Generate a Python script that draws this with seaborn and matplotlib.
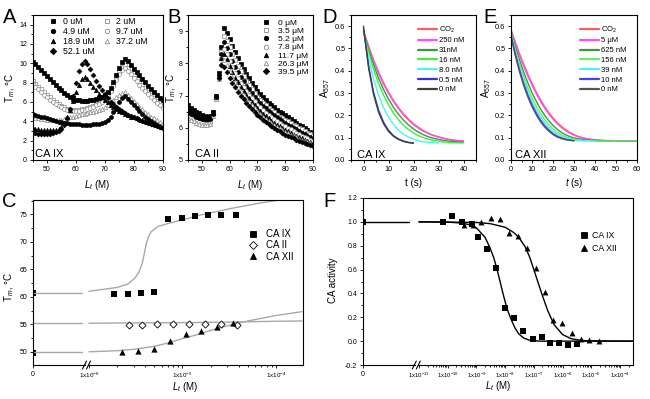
import numpy as np
import seaborn as sns
import matplotlib.pyplot as plt
from matplotlib.lines import Line2D
from matplotlib.ticker import (MultipleLocator, FixedLocator, FixedFormatter,
                               NullFormatter, LogLocator)

# ---------------- data ----------------
# panel A (CA IX melting curves)
temp_A = list(range(45, 91))
a_0 = [10.1, 9.9, 9.6, 9.3, 9.0, 8.7, 8.4, 8.1, 7.8, 7.5,
       7.2, 6.95, 6.7, 6.5, 6.35, 6.25, 6.2, 6.15, 6.15, 6.15,
       6.2, 6.25, 6.3, 6.4, 6.5, 6.7, 7.0, 7.5, 8.1, 8.8,
       9.5, 10.1, 10.5, 10.2, 9.8, 9.45, 9.1, 8.75, 8.4, 8.05,
       7.7, 7.35, 7.0, 6.7, 6.45, 6.2]
a_2 = [8.2, 7.9, 7.6, 7.3, 7.0, 6.75, 6.5, 6.25, 6.0, 5.8,
       5.6, 5.45, 5.3, 5.2, 5.15, 5.15, 5.2, 5.25, 5.3, 5.4,
       5.5, 5.6, 5.75, 5.9, 6.1, 6.35, 6.7, 7.2, 7.8, 8.5,
       9.1, 9.6, 9.8, 9.5, 9.15, 8.8, 8.45, 8.1, 7.75, 7.4,
       7.05, 6.7, 6.4, 6.1, 5.85, 5.6]
a_49 = [4.8, 4.7, 4.6, 4.5, 4.4, 4.3, 4.2, 4.1, 4.0, 3.95,
        3.9, 3.85, 3.8, 3.75, 3.7, 3.7, 3.7, 3.65, 3.65, 3.65,
        3.65, 3.7, 3.7, 3.75, 3.8, 3.9, 4.1, 4.5, 5.0, 5.5,
        6.0, 6.4, 6.6, 6.3, 6.0, 5.7, 5.4, 5.1, 4.8, 4.5,
        4.25, 4.0, 3.8, 3.6, 3.45, 3.3]
a_97 = [7.9, 7.6, 7.3, 7.0, 6.75, 6.5, 6.25, 6.0, 5.8, 5.6,
        5.45, 5.3, 5.2, 5.1, 5.05, 5.05, 5.1, 5.15, 5.2, 5.3,
        5.4, 5.5, 5.65, 5.8, 6.0, 6.25, 6.6, 7.1, 7.7, 8.3,
        8.85, 9.3, 9.5, 9.2, 8.85, 8.5, 8.15, 7.8, 7.45, 7.1,
        6.8, 6.5, 6.2, 5.9, 5.65, 5.4]
a_189 = [3.3, 3.25, 3.2, 3.15, 3.1, 3.1, 3.1, 3.1, 3.15, 3.25,
         3.45, 3.8, 4.4, 5.2, 6.1, 7.0, 7.8, 8.4, 8.6, 8.4,
         8.0, 7.6, 7.2, 6.85, 6.5, 6.2, 5.95, 5.7, 5.5, 5.3,
         5.1, 4.95, 4.8, 4.65, 4.5, 4.4, 4.3, 4.2, 4.1, 4.0,
         3.9, 3.8, 3.7, 3.6, 3.5, 3.45]
a_372 = [4.4, 4.35, 4.3, 4.25, 4.2, 4.15, 4.1, 4.1, 4.1, 4.1,
         4.15, 4.2, 4.3, 4.4, 4.5, 4.6, 4.7, 4.75, 4.8, 4.85,
         4.95, 5.0, 5.1, 5.2, 5.3, 5.45, 5.65, 5.9, 6.2, 6.5,
         6.75, 6.95, 7.0, 6.7, 6.4, 6.1, 5.8, 5.5, 5.25, 5.0,
         4.75, 4.5, 4.3, 4.1, 3.95, 3.8]
a_521 = [2.8, 2.75, 2.7, 2.7, 2.7, 2.7, 2.7, 2.75, 2.85, 3.0,
         3.2, 3.6, 4.3, 5.3, 6.6, 8.0, 9.2, 9.9, 10.2, 9.9,
         9.4, 8.8, 8.2, 7.7, 7.2, 6.8, 6.4, 6.05, 5.75, 5.5,
         5.25, 5.05, 4.85, 4.7, 4.55, 4.4, 4.3, 4.15, 4.05, 3.9,
         3.8, 3.7, 3.6, 3.5, 3.4, 3.3]

# panel B (CA II melting curves)
temp_B = list(range(45, 91))
b_0 = [6.70, 6.62, 6.55, 6.50, 6.45, 6.40, 6.36, 6.35, 6.36,
       6.50, 7.00, 7.70, 8.50, 9.10,
       8.95, 8.75, 8.55, 8.35, 8.15, 7.98, 7.82, 7.67, 7.53, 7.40,
       7.27, 7.15, 7.05, 6.95, 6.86, 6.78, 6.70, 6.63, 6.56, 6.50,
       6.45, 6.40, 6.34, 6.28, 6.22, 6.16, 6.10, 6.04, 5.98, 5.92,
       5.87, 5.82]
b_35 = [6.45, 6.40, 6.35, 6.30, 6.25, 6.22, 6.20, 6.20, 6.22,
        6.42, 6.95, 7.60, 8.35, 8.85,
        8.70, 8.50, 8.30, 8.10, 7.92, 7.76, 7.60, 7.46, 7.33, 7.20,
        7.08, 6.97, 6.87, 6.78, 6.70, 6.62, 6.55, 6.48, 6.41, 6.35,
        6.30, 6.25, 6.20, 6.15, 6.10, 6.05, 6.00, 5.95, 5.90, 5.85,
        5.80, 5.75]
b_52 = [6.60, 6.52, 6.46, 6.42, 6.38, 6.34, 6.31, 6.30, 6.32,
        6.48, 6.98, 7.65, 8.30, 8.65,
        8.48, 8.28, 8.08, 7.90, 7.73, 7.58, 7.44, 7.31, 7.19, 7.07,
        6.96, 6.86, 6.77, 6.68, 6.60, 6.53, 6.46, 6.39, 6.33, 6.27,
        6.21, 6.15, 6.10, 6.05, 6.00, 5.95, 5.90, 5.85, 5.80, 5.75,
        5.70, 5.66]
b_78 = [6.35, 6.30, 6.26, 6.22, 6.18, 6.15, 6.13, 6.12, 6.15,
        6.40, 6.92, 7.55, 8.15, 8.45,
        8.28, 8.08, 7.88, 7.70, 7.54, 7.40, 7.27, 7.15, 7.03, 6.92,
        6.82, 6.72, 6.63, 6.55, 6.47, 6.40, 6.33, 6.27, 6.21, 6.15,
        6.10, 6.05, 6.00, 5.95, 5.90, 5.85, 5.80, 5.75, 5.71, 5.67,
        5.63, 5.59]
b_117 = [6.55, 6.48, 6.42, 6.38, 6.34, 6.30, 6.28, 6.28, 6.30,
         6.46, 6.95, 7.60, 8.15, 8.30,
         8.12, 7.92, 7.73, 7.56, 7.41, 7.27, 7.14, 7.02, 6.91, 6.80,
         6.70, 6.61, 6.52, 6.44, 6.36, 6.29, 6.22, 6.16, 6.10, 6.04,
         5.99, 5.94, 5.89, 5.84, 5.79, 5.75, 5.71, 5.67, 5.63, 5.59,
         5.55, 5.52]
b_263 = [6.30, 6.25, 6.20, 6.16, 6.12, 6.10, 6.08, 6.08, 6.12,
         6.38, 6.90, 7.50, 8.00, 8.10,
         7.95, 7.76, 7.58, 7.42, 7.28, 7.15, 7.03, 6.91, 6.80, 6.70,
         6.60, 6.51, 6.43, 6.35, 6.28, 6.21, 6.15, 6.09, 6.03, 5.98,
         5.93, 5.88, 5.83, 5.78, 5.74, 5.70, 5.66, 5.62, 5.58, 5.55,
         5.52, 5.48]
b_395 = [6.50, 6.44, 6.39, 6.35, 6.31, 6.28, 6.26, 6.26, 6.28,
         6.44, 6.95, 7.55, 7.95, 7.88,
         7.72, 7.55, 7.39, 7.25, 7.12, 7.00, 6.89, 6.78, 6.68, 6.58,
         6.49, 6.40, 6.32, 6.25, 6.18, 6.11, 6.05, 5.99, 5.94, 5.89,
         5.84, 5.79, 5.75, 5.71, 5.67, 5.63, 5.59, 5.56, 5.52, 5.49,
         5.46, 5.42]

# panel D (CA IX stopped-flow, A557 vs t)
t_40 = list(range(0, 41, 2))
t_30 = list(range(0, 31, 2))
t_20 = list(range(0, 21, 2))
d_co2 = [0.580, 0.512, 0.450, 0.395, 0.347, 0.304, 0.267, 0.235, 0.207, 0.183, 0.163,
         0.146, 0.132, 0.120, 0.111, 0.104, 0.098, 0.093, 0.090, 0.087, 0.085]
d_250 = [0.575, 0.505, 0.443, 0.388, 0.340, 0.298, 0.261, 0.229, 0.202, 0.179, 0.159,
         0.142, 0.129, 0.118, 0.109, 0.102, 0.096, 0.092, 0.088, 0.086, 0.084]
d_31 = [0.575, 0.497, 0.428, 0.368, 0.317, 0.273, 0.236, 0.205, 0.179, 0.157, 0.139,
        0.125, 0.113, 0.104, 0.097, 0.092, 0.088, 0.085, 0.083, 0.081, 0.080]
d_16 = [0.575, 0.485, 0.408, 0.344, 0.291, 0.247, 0.210, 0.180, 0.156, 0.136, 0.121,
        0.109, 0.100, 0.093, 0.088, 0.084, 0.081, 0.079, 0.078, 0.077, 0.077]
d_8 = [0.580, 0.460, 0.365, 0.292, 0.235, 0.192, 0.160, 0.135, 0.116, 0.103, 0.093,
       0.086, 0.082, 0.079, 0.077, 0.076]
d_05 = [0.590, 0.425, 0.305, 0.225, 0.170, 0.133, 0.109, 0.094, 0.085, 0.079, 0.076]
d_0 = [0.600, 0.415, 0.295, 0.215, 0.163, 0.128, 0.106, 0.092, 0.083, 0.078, 0.075]

# panel E (CA XII stopped-flow)
t_60 = list(range(0, 61, 2))
e_co2 = [0.585, 0.530, 0.478, 0.430, 0.385, 0.343, 0.305, 0.271, 0.240, 0.213, 0.189,
         0.168, 0.151, 0.136, 0.124, 0.114, 0.106, 0.100, 0.096, 0.093, 0.091,
         0.089, 0.088, 0.087, 0.087, 0.086, 0.086, 0.086, 0.085, 0.085, 0.085]
e_5 = [0.580, 0.523, 0.470, 0.421, 0.376, 0.335, 0.297, 0.263, 0.233, 0.206, 0.183,
       0.163, 0.146, 0.132, 0.120, 0.111, 0.104, 0.098, 0.094, 0.091, 0.089,
       0.088, 0.087, 0.086, 0.086, 0.086, 0.085, 0.085, 0.085, 0.085, 0.085]
e_625 = [0.575, 0.510, 0.450, 0.395, 0.346, 0.302, 0.264, 0.230, 0.201, 0.176, 0.155,
         0.138, 0.124, 0.113, 0.105, 0.099, 0.095, 0.092, 0.090, 0.088, 0.087,
         0.086, 0.086, 0.085, 0.085, 0.085, 0.085, 0.085, 0.085, 0.085, 0.085]
e_156 = [0.570, 0.497, 0.432, 0.374, 0.323, 0.279, 0.241, 0.209, 0.182, 0.159, 0.140,
         0.125, 0.113, 0.104, 0.098, 0.093, 0.090, 0.088, 0.087, 0.086, 0.085,
         0.085, 0.085, 0.085, 0.085, 0.085, 0.085, 0.085, 0.085, 0.085, 0.085]
e_39 = [0.565, 0.487, 0.418, 0.358, 0.306, 0.262, 0.225, 0.194, 0.168, 0.147, 0.130,
        0.116, 0.106, 0.099, 0.094, 0.090, 0.088, 0.087, 0.086, 0.085, 0.085]
e_10 = [0.560, 0.478, 0.406, 0.344, 0.292, 0.248, 0.211, 0.180, 0.155, 0.135, 0.119,
        0.107, 0.099, 0.093, 0.089, 0.087]
e_0 = [0.555, 0.470, 0.397, 0.335, 0.283, 0.239, 0.203, 0.172, 0.148, 0.129, 0.114,
       0.103, 0.096, 0.091, 0.088, 0.086]

# panel C (Tm vs ligand)
c_zero = {'CA IX': 60.7, 'CA XII': 49.8}
c_ix_x = [1.86e-6, 2.6e-6, 3.6e-6, 5.0e-6, 7.05e-6, 9.8e-6, 1.35e-5, 1.87e-5, 2.6e-5, 3.69e-5]
c_ix_y = [60.6, 60.6, 60.7, 60.8, 74.1, 74.3, 74.7, 74.9, 74.9, 74.9]
c_ii_x = [2.65e-6, 3.68e-6, 5.36e-6, 8.0e-6, 1.18e-5, 1.75e-5, 2.59e-5, 3.83e-5]
c_ii_y = [54.8, 54.8, 55.0, 55.0, 55.0, 55.0, 55.0, 54.8]
c_xii_x = [2.26e-6, 3.32e-6, 4.9e-6, 7.3e-6, 1.08e-5, 1.58e-5, 2.35e-5, 3.48e-5]
c_xii_y = [50.0, 50.1, 50.5, 52.0, 53.2, 53.8, 54.5, 55.3]
c_stub_fit = [60.7, 55.2, 49.9]
c_fit_ix_x = [1e-6, 2e-6, 2.6e-6, 3.1e-6, 3.4e-6, 3.7e-6, 3.9e-6, 4.1e-6, 4.35e-6,
              4.6e-6, 5.5e-6, 6.9e-6, 1e-5, 1.54e-5, 3.4e-5, 7e-5, 1.2e-4, 1.9e-4]
c_fit_ix_y = [61.0, 61.7, 62.3, 63.4, 64.4, 66.0, 67.8, 69.7, 71.0,
              71.8, 72.8, 73.3, 74.0, 74.85, 76.1, 77.1, 77.7, 78.2]
c_fit_ii_x = [1e-6, 1e-5, 3e-5, 1e-4, 1.9e-4]
c_fit_ii_y = [55.2, 55.3, 55.4, 55.55, 55.6]
c_fit_xii_x = [1e-6, 2e-6, 3e-6, 5e-6, 7e-6, 1e-5, 1.5e-5, 2e-5, 3e-5, 5e-5, 1e-4, 1.9e-4]
c_fit_xii_y = [50.0, 50.2, 50.45, 51.0, 51.6, 52.4, 53.2, 53.9, 54.7, 55.6, 56.6, 57.3]

# panel F (CA activity vs ligand)
f_zero_ix = 1.0
f_ix_x = [6.8e-11, 1.39e-10, 3.1e-10, 6.9e-10, 1.18e-9, 2.3e-9, 4.8e-9, 1.0e-8,
          2.0e-8, 4.3e-8, 9.1e-8, 1.9e-7, 3.7e-7, 7.7e-7, 1.6e-6, 3.3e-6]
f_ix_y = [1.0, 1.045, 0.995, 0.98, 0.875, 0.77, 0.615, 0.28,
          0.195, 0.088, 0.02, 0.034, -0.013, -0.014, -0.03, -0.025]
f_xii_x = [3.7e-10, 7.4e-10, 1.5e-9, 3.1e-9, 6.6e-9, 1.34e-8, 2.9e-8, 5.9e-8,
           1.2e-7, 2.5e-7, 4.8e-7, 9.8e-7, 2.1e-6, 4.3e-6, 8.5e-6, 1.8e-5]
f_xii_y = [0.97, 0.975, 1.0, 1.035, 1.02, 0.905, 0.885, 0.785,
           0.61, 0.41, 0.18, 0.15, 0.07, 0.015, 0.01, 0.0]
f_fit_ix_x = [1e-11, 1e-10, 3e-10, 6e-10, 1e-9, 2e-9, 3e-9, 4e-9, 5e-9, 6.5e-9, 8e-9,
              1e-8, 1.3e-8, 1.7e-8, 2.2e-8, 3e-8, 4.5e-8, 7e-8, 1.5e-7, 1e-6, 1e-5, 2.8e-4]
f_fit_ix_y = [1.0, 0.998, 0.99, 0.975, 0.95, 0.87, 0.78, 0.70, 0.62, 0.51, 0.42,
              0.33, 0.24, 0.17, 0.11, 0.06, 0.025, 0.008, 0.0, 0.0, 0.0, 0.0]
f_fit_xii_x = [1e-11, 1e-9, 3e-9, 1e-8, 2e-8, 3e-8, 5e-8, 7e-8, 1e-7, 1.5e-7, 2e-7,
               3e-7, 5e-7, 1e-6, 2e-6, 5e-6, 1e-5, 2.8e-4]
f_fit_xii_y = [1.0, 0.995, 0.985, 0.955, 0.91, 0.87, 0.79, 0.71, 0.60, 0.47, 0.38,
               0.26, 0.14, 0.055, 0.02, 0.005, 0.002, 0.0]

# ---------------- style ----------------
sns.set_style('ticks')
plt.rcParams['font.family'] = ['Liberation Sans', 'DejaVu Sans']
plt.rcParams['mathtext.fontset'] = 'custom'
plt.rcParams['mathtext.rm'] = 'Liberation Sans'
plt.rcParams['mathtext.it'] = 'Liberation Sans:italic'
plt.rcParams['mathtext.bf'] = 'Liberation Sans:bold'
plt.rcParams['axes.unicode_minus'] = False
plt.rcParams['axes.edgecolor'] = 'black'
plt.rcParams['axes.linewidth'] = 0.8
plt.rcParams['text.color'] = 'black'
plt.rcParams['xtick.color'] = 'black'
plt.rcParams['ytick.color'] = 'black'

W, H = 650, 399
fig = plt.figure(figsize=(6.5, 3.99), dpi=100)


def px_axes(x0, x1, y0, y1):
    return fig.add_axes([x0 / W, 1 - y1 / H, (x1 - x0) / W, (y1 - y0) / H])


def ftext(x, y, s, **kw):
    fig.text(x / W, 1 - y / H, s, **kw)


def ticks(ax, fs=5):
    ax.tick_params(which='both', direction='out', width=0.6, labelsize=fs, pad=1.5,
                   top=False, right=False)
    ax.tick_params(which='major', length=2.5)
    ax.tick_params(which='minor', length=1.3)


def fline(xs, ys, **kw):
    fig.add_artist(Line2D([x / W for x in xs], [1 - y / H for y in ys], **kw))


def slash(x, y):
    for dx in (-2, 2):
        fline([x + dx - 2, x + dx + 2], [y + 4, y - 4], color='black', lw=0.8)


def mproxy(mk, fc, ec, ms=3.2):
    return Line2D([], [], ls='', marker=mk, mfc=fc, mec=ec, ms=ms, mew=0.6)


GRAY = '#8a8a8a'

# ---------------- panel A ----------------
axA = px_axes(32.5, 162.5, 15, 160)
seriesA = [
    ('0 uM', a_0, 's', 'black', 'black', 7),
    ('2 uM', a_2, 's', 'white', GRAY, 7),
    ('4.9 uM', a_49, 'o', 'black', 'black', 8),
    ('9.7 uM', a_97, 'o', 'white', GRAY, 8),
    ('18.9 uM', a_189, '^', 'black', 'black', 9),
    ('37.2 uM', a_372, '^', 'white', GRAY, 9),
    ('52.1 uM', a_521, 'D', 'black', 'black', 6),
]
for lab, vals, mk, fc, ec, s in [seriesA[i] for i in (1, 3, 5, 0, 2, 4, 6)]:
    sns.scatterplot(x=temp_A, y=vals, marker=mk, s=s, color=fc, edgecolor=ec,
                    linewidth=0.5, ax=axA)
axA.set_xlim(45, 90)
axA.set_ylim(0, 15)
axA.xaxis.set_major_locator(MultipleLocator(10))
axA.xaxis.set_minor_locator(MultipleLocator(5))
axA.yaxis.set_major_locator(FixedLocator([0, 2, 4, 6, 8, 10, 12, 14]))
axA.yaxis.set_minor_locator(MultipleLocator(1))
ticks(axA)
order = [0, 2, 4, 6, 1, 3, 5]
axA.legend([mproxy(seriesA[i][2], seriesA[i][3], seriesA[i][4]) for i in order],
           [seriesA[i][0] for i in order], ncol=2, loc='upper left',
           bbox_to_anchor=(0.11, 0.995), frameon=False, fontsize=6.3,
           handlelength=1.0, handletextpad=0.6, columnspacing=0.9,
           labelspacing=0.08, borderpad=0.2, borderaxespad=0)

# ---------------- panel B ----------------
axB = px_axes(188, 313, 15, 160)
seriesB = [
    ('0 \u03bcM', b_0, 's', 'black', 'black', 7),
    ('3.5 \u03bcM', b_35, 's', 'white', GRAY, 7),
    ('5.2 \u03bcM', b_52, 'o', 'black', 'black', 8),
    ('7.8 \u03bcM', b_78, 'o', 'white', GRAY, 8),
    ('11.7 \u03bcM', b_117, '^', 'black', 'black', 9),
    ('26.3 \u03bcM', b_263, '^', 'white', GRAY, 9),
    ('39.5 \u03bcM', b_395, 'D', 'black', 'black', 6),
]
for lab, vals, mk, fc, ec, s in seriesB:
    sns.scatterplot(x=temp_B, y=vals, marker=mk, s=s, color=fc, edgecolor=ec,
                    linewidth=0.5, ax=axB)
axB.set_xlim(45, 90)
axB.set_ylim(5, 9.5)
axB.xaxis.set_major_locator(MultipleLocator(10))
axB.xaxis.set_minor_locator(MultipleLocator(5))
axB.yaxis.set_major_locator(MultipleLocator(1))
axB.yaxis.set_minor_locator(MultipleLocator(0.5))
ticks(axB)
axB.legend([mproxy(s[2], s[3], s[4]) for s in seriesB], [s[0] for s in seriesB],
           loc='upper left', bbox_to_anchor=(0.58, 0.985), frameon=False,
           fontsize=6, handlelength=1.0, handletextpad=0.9, labelspacing=0.05,
           borderpad=0.2, borderaxespad=0)


# ---------------- panels D, E ----------------
def kinetics(ax, series, legx):
    for lab, t, vals, col in series:
        sns.lineplot(x=t, y=vals, color=col, linewidth=1.0, ax=ax)
    ax.set_ylim(0, 0.65)
    ax.yaxis.set_major_locator(MultipleLocator(0.1))
    ax.yaxis.set_minor_locator(MultipleLocator(0.05))
    ax.xaxis.set_major_locator(MultipleLocator(10))
    ax.xaxis.set_minor_locator(MultipleLocator(5))
    ticks(ax, fs=5.3)
    ax.legend([Line2D([], [], color=c, lw=1.6) for _, _, _, c in series],
              [lab for lab, _, _, _ in series], loc='upper left',
              bbox_to_anchor=(legx, 0.945), frameon=False, fontsize=5.5,
              handlelength=2.5, handletextpad=0.2, labelspacing=0.32,
              borderpad=0.2, borderaxespad=0)


axD = px_axes(351, 476, 15, 160)
kinetics(axD, [('CO$_2$', t_40, d_co2, '#ff5c5c'),
               ('250 nM', t_40, d_250, '#ff4dff'),
               ('31nM', t_40, d_31, '#3a9a3a'),
               ('16 nM', t_40, d_16, '#3cf03c'),
               ('8.0 nM', t_30, d_8, '#4df2f2'),
               ('0.5 nM', t_20, d_05, '#3333e6'),
               ('0 nM', t_20, d_0, '#404040')], 0.524)
axD.set_xlim(-5, 45)

axE = px_axes(511, 637, 15, 160)
kinetics(axE, [('CO$_2$', t_60, e_co2, '#ff5c5c'),
               ('5 \u03bcM', t_60, e_5, '#ff4dff'),
               ('625 nM', t_60, e_625, '#3a9a3a'),
               ('156 nM', t_60, e_156, '#66ee66'),
               ('39 nM', t_40, e_39, '#4df2f2'),
               ('10 nM', t_30, e_10, '#4040ff'),
               ('0 nM', t_30, e_0, '#555555')], 0.536)
axE.set_xlim(0, 60)

# ---------------- panel C (broken axis) ----------------
axCs = px_axes(33, 85, 200, 365)
axC = px_axes(88, 303, 200, 365)
for ax in (axCs, axC):
    ax.set_ylim(47.6, 77.6)
axC.set_xscale('log')
axC.set_xlim(10 ** -6.0107, 10 ** -3.711)
axCs.set_xlim(0, 1)
fitgray = '#a8a8a8'
for yv in c_stub_fit:
    sns.lineplot(x=[0, 0.95], y=[yv, yv], color=fitgray, linewidth=1.0, ax=axCs)
sns.scatterplot(x=[0, 0], y=[c_zero['CA IX'], c_zero['CA XII']], marker='s', s=16,
                color='black', edgecolor='black', linewidth=0, ax=axCs)
sns.lineplot(x=c_fit_ix_x, y=c_fit_ix_y, color=fitgray, linewidth=1.0, ax=axC)
sns.lineplot(x=c_fit_ii_x, y=c_fit_ii_y, color=fitgray, linewidth=1.0, ax=axC)
sns.lineplot(x=c_fit_xii_x, y=c_fit_xii_y, color=fitgray, linewidth=1.0, ax=axC)
sns.scatterplot(x=c_ix_x, y=c_ix_y, marker='s', s=16, color='black',
                edgecolor='black', linewidth=0, ax=axC, zorder=3)
sns.scatterplot(x=c_ii_x, y=c_ii_y, marker='D', s=13, color='white',
                edgecolor='black', linewidth=0.6, ax=axC, zorder=3)
sns.scatterplot(x=c_xii_x, y=c_xii_y, marker='^', s=20, color='black',
                edgecolor='black', linewidth=0, ax=axC, zorder=3)
axCs.spines['right'].set_visible(False)
axC.spines['left'].set_visible(False)
axCs.xaxis.set_major_locator(FixedLocator([0]))
axCs.yaxis.set_major_locator(MultipleLocator(5))
axCs.yaxis.set_minor_locator(MultipleLocator(2.5))
ticks(axCs)
axC.xaxis.set_major_locator(FixedLocator([1e-6, 1e-5, 1e-4]))
axC.xaxis.set_major_formatter(FixedFormatter([r'1x10$^{-6}$', r'1x10$^{-5}$', r'1x10$^{-4}$']))
axC.xaxis.set_minor_locator(LogLocator(base=10, subs=np.arange(2, 10)))
axC.xaxis.set_minor_formatter(NullFormatter())
ticks(axC, fs=4.5)
axC.tick_params(axis='y', which='both', left=False, labelleft=False)
axC.legend([mproxy('s', 'black', 'black', 4.3), mproxy('D', 'white', 'black', 3.8),
            mproxy('^', 'black', 'black', 4.5)], ['CA IX', 'CA II', 'CA XII'],
           loc='upper left', bbox_to_anchor=(0.735, 0.835), frameon=False,
           fontsize=7, handlelength=1.0, handletextpad=0.9, labelspacing=0.13,
           borderpad=0.2, borderaxespad=0)
slash(86.5, 365)
fline([84.5, 88.5], [200, 200], color='black', lw=0.8)

# ---------------- panel F (broken axis) ----------------
axFs = px_axes(362.7, 414.5, 198, 365)
axF = px_axes(418, 632.7, 198, 365)
for ax in (axFs, axF):
    ax.set_ylim(-0.2, 1.2)
axF.set_xscale('log')
axF.set_xlim(10 ** -11.035, 10 ** -3.557)
axFs.set_xlim(0, 1)
sns.lineplot(x=[0, 0.9], y=[f_zero_ix, f_zero_ix], color='black', linewidth=1.0, ax=axFs)
sns.scatterplot(x=[0], y=[f_zero_ix], marker='s', s=13, color='black',
                edgecolor='black', linewidth=0, ax=axFs)
sns.lineplot(x=f_fit_ix_x, y=f_fit_ix_y, color='black', linewidth=1.0, ax=axF)
sns.lineplot(x=f_fit_xii_x, y=f_fit_xii_y, color='black', linewidth=1.0, ax=axF)
sns.scatterplot(x=f_ix_x, y=f_ix_y, marker='s', s=13, color='black',
                edgecolor='black', linewidth=0, ax=axF, zorder=3)
sns.scatterplot(x=f_xii_x, y=f_xii_y, marker='^', s=18, color='black',
                edgecolor='black', linewidth=0, ax=axF, zorder=3)
axFs.spines['right'].set_visible(False)
axF.spines['left'].set_visible(False)
axFs.xaxis.set_major_locator(FixedLocator([0]))
axFs.yaxis.set_major_locator(MultipleLocator(0.2))
axFs.yaxis.set_minor_locator(MultipleLocator(0.1))
ticks(axFs)
fexp = [-11, -10, -9, -8, -7, -6, -5, -4]
axF.xaxis.set_major_locator(FixedLocator([10.0 ** e for e in fexp]))
axF.xaxis.set_major_formatter(FixedFormatter([r'1x10$^{%d}$' % e for e in fexp]))
axF.xaxis.set_minor_locator(LogLocator(base=10, subs=np.arange(2, 10)))
axF.xaxis.set_minor_formatter(NullFormatter())
ticks(axF, fs=4.3)
axF.tick_params(axis='y', which='both', left=False, labelleft=False)
axF.legend([mproxy('s', 'black', 'black', 4.0), mproxy('^', 'black', 'black', 4.3)],
           ['CA IX', 'CA XII'], loc='upper left', bbox_to_anchor=(0.75, 0.815),
           frameon=False, fontsize=6.3, handlelength=0.8, handletextpad=0.5,
           labelspacing=0.5, borderpad=0.2, borderaxespad=0)
slash(416.3, 365)
fline([414, 418.5], [198, 198], color='black', lw=0.8)

# ---------------- labels ----------------
for ax in (axA, axB, axD, axE, axCs, axC, axFs, axF):
    ax.set_xlabel('')
    ax.set_ylabel('')

lab_fs = 7
ftext(97.5, 185, r'$L_t$ (M)', ha='center', va='center', fontsize=lab_fs)
ftext(250.5, 185, r'$L_t$ (M)', ha='center', va='center', fontsize=lab_fs)
ftext(413.5, 183, 't (s)', ha='center', va='center', fontsize=lab_fs)
ftext(574, 183, r'$t$ (s)', ha='center', va='center', fontsize=lab_fs)
ftext(185, 387, r'$L_t$ (M)', ha='center', va='center', fontsize=lab_fs)
ftext(498, 386, r'$L_t$ (M)', ha='center', va='center', fontsize=lab_fs)

ftext(10, 88, r'T$_m$, °C', ha='center', va='center', rotation=90, fontsize=lab_fs)
ftext(171, 88, r'T$_m$, °C', ha='center', va='center', rotation=90, fontsize=lab_fs)
ftext(325, 88, r'A$_{557}$', ha='center', va='center', rotation=90, fontsize=lab_fs)
ftext(486, 88, r'A$_{557}$', ha='center', va='center', rotation=90, fontsize=lab_fs)
ftext(9, 287, r'T$_m$, °C', ha='center', va='center', rotation=90, fontsize=lab_fs)
ftext(333, 280, 'CA activity', ha='center', va='center', rotation=90, fontsize=lab_fs)

ftext(35, 157, 'CA IX', fontsize=8, va='baseline')
ftext(195, 157, 'CA II', fontsize=8, va='baseline')
ftext(357, 158, 'CA IX', fontsize=8, va='baseline')
ftext(515, 158, 'CA XII', fontsize=8, va='baseline')

for lt, x, y in [('A', 3, 23), ('B', 167, 23), ('D', 322, 23), ('E', 483, 23),
                 ('C', 2, 207), ('F', 323, 207)]:
    ftext(x, y, lt, fontsize=14.5, va='baseline')

fig.savefig('out.png', dpi=100)
